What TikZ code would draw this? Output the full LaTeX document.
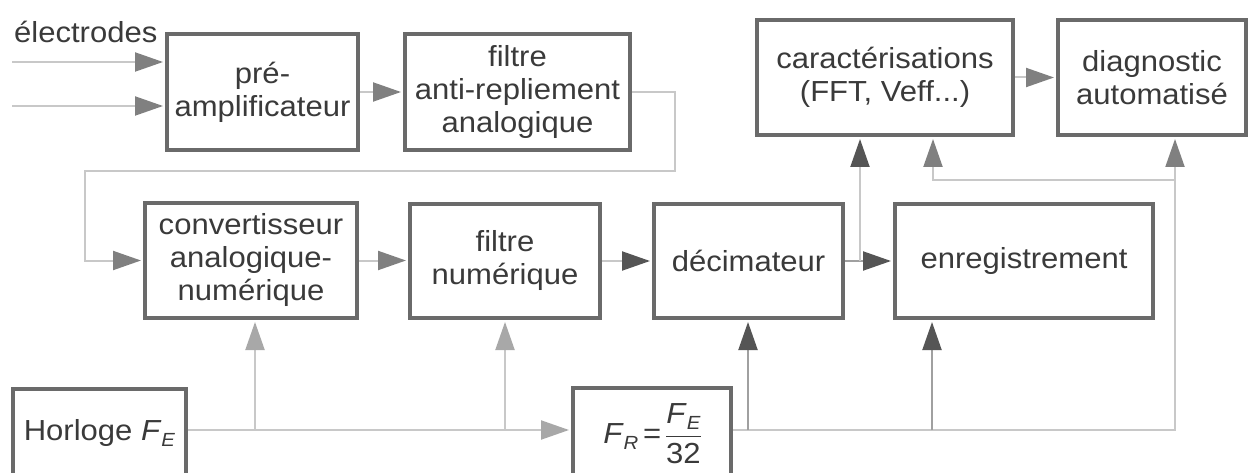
\documentclass[tikz,border=0pt]{standalone}
\usepackage{fontspec}
\usepackage{amsmath}
\setmainfont{Liberation Sans}[FakeStretch=1.07]
\usetikzlibrary{arrows.meta}
\definecolor{boxc}{HTML}{6A6A6A}
\definecolor{txt}{HTML}{3A3A3A}
\definecolor{linel}{HTML}{C8C8C8}
\definecolor{linem}{HTML}{A0A0A0}
\definecolor{arrl}{HTML}{A8A8A8}
\definecolor{arrm}{HTML}{808080}
\definecolor{arrd}{HTML}{555555}
\tikzset{
  box/.style={draw=boxc, line width=4pt, fill=white, align=center, inner sep=0pt,
    font=\fontsize{29pt}{33pt}\selectfont, text=txt},
  lbl/.style={inner sep=0pt, font=\fontsize{29pt}{33pt}\selectfont, text=txt},
  ln/.style={draw=linel, line width=2pt},
  lnm/.style={draw=linem, line width=2pt},
  tipL/.style={-{Triangle[length=28pt,width=19pt,color=arrl]}, shorten >=2pt},
  tipM/.style={-{Triangle[length=28pt,width=19pt,color=arrm]}, shorten >=2pt},
  tipD/.style={-{Triangle[length=28pt,width=19pt,color=arrd]}, shorten >=2pt},
}
% italic symbol with a lowered italic index
\newcommand\symidx[2]{\textit{#1}\raisebox{-6pt}{\fontsize{19pt}{19pt}\selectfont\textit{#2}}}
\begin{document}
\begin{tikzpicture}[x=1pt,y=-1pt]
\useasboundingbox (0,0) rectangle (1250,473);
\clip (0,0) rectangle (1250,473);
\fill[white] (0,0) rectangle (1250,473);

% processing blocks
\node[box, minimum width=191pt, minimum height=116pt] (pre) at (262.5,92) {pré-\\amplificateur};
\node[box, minimum width=225pt, minimum height=116pt] (aa) at (517.5,92) {filtre\\anti-repliement\\analogique};
\node[box, minimum width=256pt, minimum height=115pt] (car) at (885,77.5) {caractérisations\\(FFT, Veff...)};
\node[box, minimum width=188pt, minimum height=115pt] (diag) at (1152,77.5) {diagnostic\\automatisé};
\node[box, minimum width=212pt, minimum height=115pt] (can) at (251,260.5) {convertisseur\\analogique-\\numérique};
\node[box, minimum width=190pt, minimum height=114pt] (fn) at (505,261) {filtre\\numérique};
\node[box, minimum width=189pt, minimum height=114pt] (dec) at (748.5,261) {décimateur};
\node[box, minimum width=258pt, minimum height=114pt] (enr) at (1024,261) {enregistrement};
\node[box, minimum width=173pt, minimum height=96pt, text height=21pt, text depth=15pt] (clk) at (99.5,437) {Horloge \symidx{F}{E}};
\node[box, minimum width=158pt, minimum height=96pt, text height=41pt, text depth=27pt] (fr) at (652,436)
  {\symidx{F}{R}\,=\,$\vcenter{\hbox{\begin{tabular}{@{}c@{}}\symidx{F}{E}\\[2pt]\hline\rule{0pt}{27pt}32\end{tabular}}}$};

% electrode inputs
\node[lbl, anchor=base west] (el) at (14,43) {électrodes};
\coordinate (e1) at (12,62);
\coordinate (e2) at (12,106);
\draw[ln, tipM] (e1) -- (e1 -| pre.west);
\draw[ln, tipM] (e2) -- (e2 -| pre.west);

% analog chain
\draw[ln, tipM] (pre.east) -- (aa.west);
\coordinate (r1) at (675,171);
\coordinate (r2) at (85,171);
\draw[ln, tipM] (aa.east) -| (r1) -- (r2) |- (can.west);

% digital chain
\draw[ln, tipM] (can.east) -- (can.east -| fn.west);
\draw[ln, tipD] (fn.east) -- (dec.west);
\draw[lnm, tipD] (dec.east) -- (enr.west);
\coordinate (j) at (860,261);
\draw[ln, tipD] (j) -- (j |- car.south);
\draw[ln, tipM] (car.east) -- (diag.west);

% clock distribution
\coordinate (cl) at (0,430);
\draw[ln, tipL] (clk.east |- cl) -- (fr.west |- cl);
\coordinate (b1) at (255,430);
\draw[ln, tipL] (b1) -- (b1 |- can.south);
\coordinate (b2) at (505,430);
\draw[ln, tipL] (b2) -- (b2 |- fn.south);

% reduced-rate clock distribution
\coordinate (k) at (1175,430);
\coordinate (m) at (1175,180);
\coordinate (n) at (933,180);
\draw[ln, tipM] (fr.east |- cl) -- (k) -- (m |- diag.south);
\draw[ln, tipM] (m) -- (n) -- (n |- car.south);
\coordinate (b3) at (748,430);
\draw[lnm, tipD] (b3) -- (b3 |- dec.south);
\coordinate (b4) at (932,430);
\draw[lnm, tipD] (b4) -- (b4 |- enr.south);
\end{tikzpicture}
\end{document}
